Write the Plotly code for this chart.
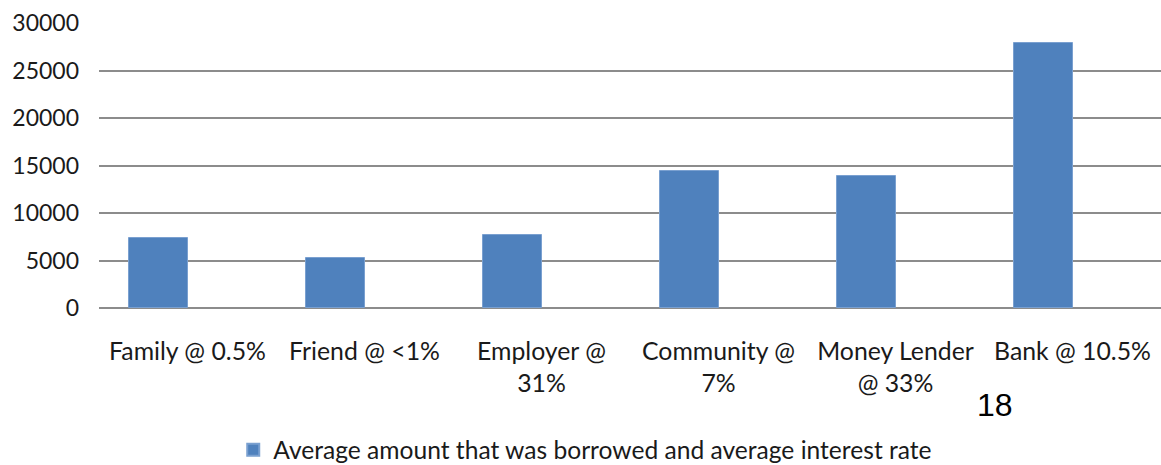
import plotly.graph_objects as go

categories = ["Family @ 0.5%", "Friend @ <1%", "Employer @<br>31%", "Community @<br>7%",
              "Money Lender<br>@ 33%", "Bank @ 10.5%"]
amounts = [7350, 5300, 7650, 14400, 13850, 27850]
series_name = "Average amount that was borrowed and average interest rate"
y_ticks = [0, 5000, 10000, 15000, 20000, 25000, 30000]

FONT = "Lato, Carlito, 'Open Sans', sans-serif"
TXT = "#1a1a1a"

fig = go.Figure()
fig.add_trace(go.Bar(
    x=categories, y=amounts, name=series_name,
    marker=dict(color="#4F81BD", line=dict(color="#7aa0d0", width=1)),
    width=0.33, offset=-0.33,
    showlegend=True,
))

fig.update_layout(
    width=1161, height=465,
    margin=dict(l=99, r=0, t=23, b=157, autoexpand=False),
    paper_bgcolor="white", plot_bgcolor="white",
    font=dict(family=FONT, size=23, color=TXT),
    showlegend=True,
    legend=dict(orientation="h", x=0.1264, y=-0.497, xanchor="left", yanchor="middle",
                font=dict(family=FONT, size=24.6, color=TXT),
                bgcolor="rgba(0,0,0,0)", borderwidth=0,
                tracegroupgap=0, itemsizing="constant"),
    bargap=0,
)
fig.update_xaxes(
    type="category", showgrid=False, showline=False, ticks="",
    tickfont=dict(family=FONT, size=24.8, color=TXT),
    ticklabelstandoff=26,
)
fig.update_yaxes(
    range=[0, 30000], tickvals=y_ticks, ticktext=[str(v) for v in y_ticks],
    showgrid=True, gridcolor="#8c8c8c", gridwidth=1.5,
    zeroline=True, zerolinecolor="#8c8c8c", zerolinewidth=1.5,
    showline=False, ticks="",
    tickfont=dict(family=FONT, size=23, color=TXT),
    ticklabelstandoff=19,
)
fig.add_annotation(
    text="18", xref="paper", yref="paper", x=0.844, y=-0.341,
    xanchor="center", yanchor="middle", showarrow=False,
    font=dict(family="Liberation Sans, Arial, sans-serif", size=32, color="#000000"),
)

fig.write_html("out.html", config={"displayModeBar": False},
               post_script="document.body.style.margin='0';document.body.style.overflow='hidden';")
